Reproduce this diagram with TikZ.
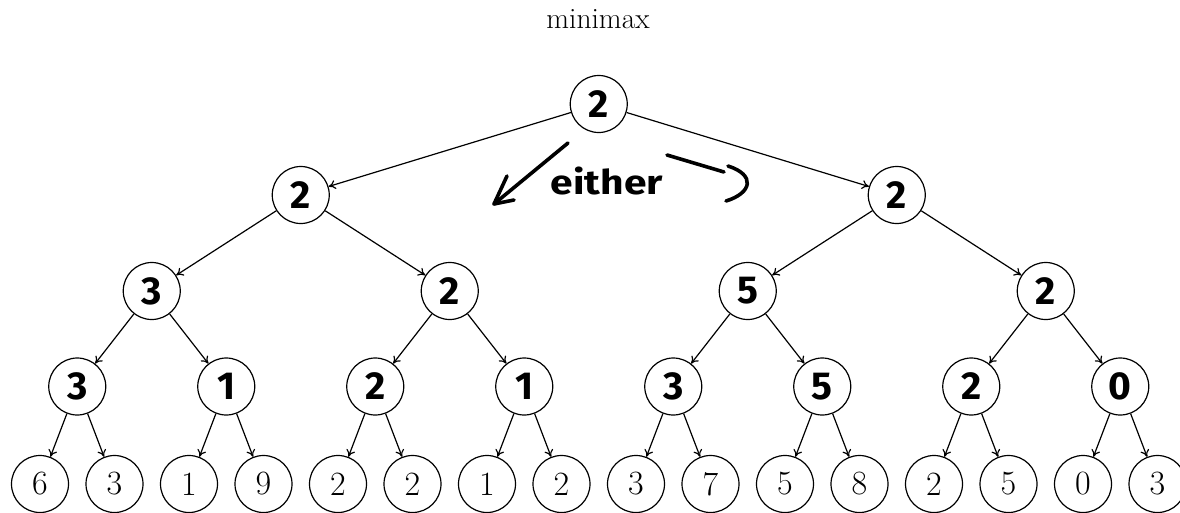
\documentclass[tikz,border=0pt]{standalone}
\usepackage{fontspec}
\newfontfamily\hand{Fira Sans}
\usetikzlibrary{arrows.meta}
\tikzset{
  circ/.style={circle, draw, line width=1.2pt, minimum size=57pt, inner sep=0pt},
  leaf/.style={circ, font=\fontsize{34}{34}\selectfont},
  inner/.style={circ, font=\hand\bfseries\fontsize{39}{39}\selectfont},
  edge/.style={line width=1.2pt, -{To[length=7pt,width=9pt,line width=1.2pt]}},
  handstroke/.style={line width=3.6pt, line cap=round, line join=round},
}
\begin{document}
\begin{tikzpicture}[x=1pt,y=-1pt]
\clip (0,0) rectangle (1180,512);
\useasboundingbox (0,0) rectangle (1180,512);
\node[anchor=base, font=\fontsize{29.5}{30}\selectfont] (title) at (598,28) {minimax};
% root
\node[inner] (r) at (598.75,104) {2};
% level 1
\node[inner] (a1) at (300.75,195) {2};
\node[inner] (a2) at (896.75,195) {2};
% level 2
\node[inner] (b1) at (151.75,291) {3};
\node[inner] (b2) at (449.75,291) {2};
\node[inner] (b3) at (747.75,291) {5};
\node[inner] (b4) at (1045.75,291) {2};
% level 3
\foreach \v [count=\j] in {3,1,2,1,3,5,2,0}
  \node[inner] (c\j) at ({77.25+149*(\j-1)},386.5) {\v};
% leaves
\foreach \v [count=\i] in {6,3,1,9,2,2,1,2,3,7,5,8,2,5,0,3}
  \node[leaf] (l\i) at ({40+74.5*(\i-1)},484) {\v};
% edges
\draw[edge] (r) -- (a1);
\draw[edge] (r) -- (a2);
\draw[edge] (a1) -- (b1);
\draw[edge] (a1) -- (b2);
\draw[edge] (a2) -- (b3);
\draw[edge] (a2) -- (b4);
\draw[edge] (b1) -- (c1);
\draw[edge] (b1) -- (c2);
\draw[edge] (b2) -- (c3);
\draw[edge] (b2) -- (c4);
\draw[edge] (b3) -- (c5);
\draw[edge] (b3) -- (c6);
\draw[edge] (b4) -- (c7);
\draw[edge] (b4) -- (c8);
\foreach \j [evaluate=\j as \p using int(2*\j-1), evaluate=\j as \q using int(2*\j)] in {1,...,8} {
  \draw[edge] (c\j) -- (l\p);
  \draw[edge] (c\j) -- (l\q);
}
% handwritten note
\coordinate (la0) at (568,143);
\coordinate (la1) at (494,204);
\coordinate (la2) at (507,176);
\coordinate (la3) at (514,200);
\draw[handstroke] (la0) -- (la1);
\draw[handstroke] (la2) -- (la1) -- (la3);
\node[anchor=base, font=\hand\bfseries\fontsize{34}{34}\selectfont, inner sep=0pt] (either) at (607,194) {\scalebox{1.2}[1]{either}};
\coordinate (ra0) at (667,155);
\coordinate (ra1) at (724,172);
\coordinate (rb0) at (728,166);
\coordinate (rb1) at (726,201);
\draw[handstroke] (ra0) -- (ra1);
\draw[handstroke] (rb0) .. controls (756,175) and (752,193) .. (rb1);
\end{tikzpicture}
\end{document}
